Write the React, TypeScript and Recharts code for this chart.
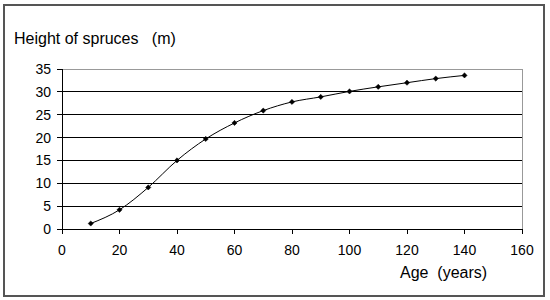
import { LineChart, Line, XAxis, YAxis, CartesianGrid, ReferenceLine } from 'recharts'

const ages = [10, 20, 30, 40, 50, 60, 70, 80, 90, 100, 110, 120, 130, 140]
const heights = [1.2, 4.2, 9.1, 15, 19.7, 23.2, 25.9, 27.8, 28.9, 30.1, 31.1, 32.0, 32.9, 33.6]
const xTicks = [0, 20, 40, 60, 80, 100, 120, 140, 160]
const yTicks = [0, 5, 10, 15, 20, 25, 30, 35]

const data = ages.map((age, i) => ({ age, height: heights[i] }))

const font = '"Liberation Sans", Arial, sans-serif'

// small black diamond marker, like the old spreadsheet default
const Diamond = (props: any) => {
  const { cx, cy } = props
  if (cx == null || cy == null) return null
  const r = 2.6
  return (
    <polygon
      points={`${cx},${cy - r} ${cx + r},${cy} ${cx},${cy + r} ${cx - r},${cy}`}
      fill="#000"
      stroke="#000"
      strokeWidth={0.5}
    />
  )
}

export default function App() {
  return (
    <div style={{ position: 'absolute', left: 0, top: 0, width: 550, height: 300, background: '#fff', fontFamily: font }}>
      <div style={{ position: 'absolute', left: 3, top: 4, width: 538, height: 289, border: '2px solid #555' }} />
      <div style={{ position: 'absolute', left: 14, top: 30, fontSize: 16, color: '#000', whiteSpace: 'pre' }}>
        {'Height of spruces   (m)'}
      </div>
      <div style={{ position: 'absolute', left: 400, top: 264, fontSize: 16, color: '#000', whiteSpace: 'pre' }}>
        {'Age  (years)'}
      </div>
      <LineChart
        width={550}
        height={300}
        data={data}
        margin={{ top: 69, right: 28, bottom: 41, left: 32 }}
        style={{ position: 'absolute', left: 0, top: 0 }}
      >
        <XAxis
          dataKey="age"
          type="number"
          domain={[0, 160]}
          ticks={xTicks}
          height={30}
          stroke="#000"
          shapeRendering="crispEdges"
          tickSize={5}
          tickMargin={11}
          tick={{ fill: '#000', fontSize: 14, fontFamily: font }}
        />
        <YAxis
          type="number"
          domain={[0, 35]}
          ticks={yTicks}
          interval={0}
          width={30}
          stroke="#000"
          shapeRendering="crispEdges"
          tickSize={5}
          tickMargin={6}
          tick={{ fill: '#000', fontSize: 14, fontFamily: font }}
        />
        {/* horizontal grid lines, one per y tick */}
        {yTicks.slice(1, -1).map((t) => (
          <ReferenceLine key={t} y={t} stroke="#000" shapeRendering="crispEdges" />
        ))}
        <ReferenceLine y={35} stroke="#999" shapeRendering="crispEdges" />
        <ReferenceLine x={160} stroke="#999" shapeRendering="crispEdges" />
        <Line
          type="monotone"
          dataKey="height"
          stroke="#000"
          strokeWidth={1}
          dot={<Diamond />}
          isAnimationActive={false}
        />
      </LineChart>
    </div>
  )
}
